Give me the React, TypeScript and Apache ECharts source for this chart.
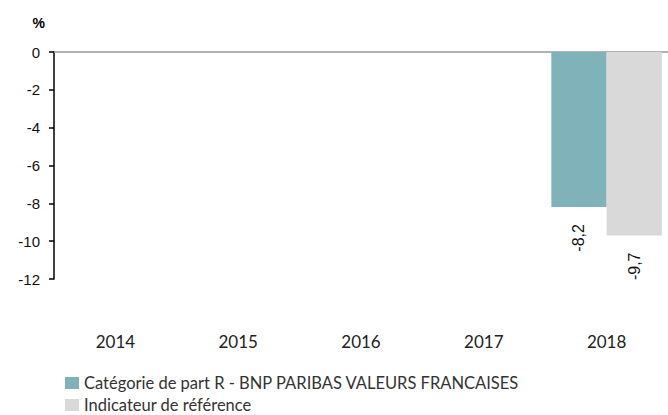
import React, { useEffect, useRef } from "react";
import * as echarts from "echarts";

const categories = ["2014", "2015", "2016", "2017", "2018"];
const fundValues: (number | null)[] = [null, null, null, null, -8.2];
const benchValues: (number | null)[] = [null, null, null, null, -9.7];
const seriesNames = ["Catégorie de part R - BNP PARIBAS VALEURS FRANCAISES", "Indicateur de référence"];

export default function App() {
  const ref = useRef<HTMLDivElement>(null);
  useEffect(() => {
    const chart = echarts.init(ref.current!, null, { renderer: "svg" });
    const labelFont = "Lato, 'Liberation Sans', Arial, sans-serif";
    const numFont = "'Liberation Sans', Arial, sans-serif";
    const mkLabel = () => ({
      show: true,
      position: "bottom",
      distance: 17,
      rotate: 90,
      align: "right",
      verticalAlign: "middle",
      color: "#111",
      fontSize: 16,
      fontFamily: numFont,
      formatter: (p: any) => String(p.value).replace(".", ","),
    });
    const legendBase = {
      orient: "vertical",
      left: 60,
      itemWidth: 14,
      itemHeight: 12,
      icon: "rect",
      padding: [0, 5, 0, 5],
      textStyle: { fontSize: 16.5, lineHeight: 18, color: "#333", fontFamily: labelFont },
    };
    chart.setOption({
      animation: false,
      grid: { left: 54, width: 617, top: 52, bottom: 136 },
      legend: [
        { ...legendBase, top: 374, data: [seriesNames[0]] },
        { ...legendBase, top: 396, data: [seriesNames[1]] },
      ],
      xAxis: [
        {
          type: "category",
          data: categories,
          position: "bottom",
          axisLine: { show: false },
          axisTick: { show: false },
          axisLabel: { margin: 54, fontSize: 17, color: "#222", fontFamily: labelFont },
        },
        {
          type: "category",
          data: categories,
          position: "top",
          axisLine: { show: true, lineStyle: { color: "#999", width: 1.5 } },
          axisTick: { show: false },
          axisLabel: { show: false },
        },
      ],
      yAxis: {
        type: "value",
        min: -12,
        max: 0,
        interval: 2,
        name: "%",
        nameLocation: "end",
        nameGap: 22,
        nameTextStyle: { fontSize: 14, fontWeight: "bold", color: "#000", align: "right", padding: [0, 9, 0, 0], fontFamily: numFont },
        axisLine: { show: true, lineStyle: { color: "#000", width: 1.5 } },
        axisTick: { show: true, length: 5, lineStyle: { color: "#000", width: 1.5 } },
        axisLabel: { fontSize: 15, color: "#111", margin: 14, fontFamily: numFont },
        splitLine: { show: false },
      },
      series: [
        {
          name: seriesNames[0],
          type: "bar",
          data: fundValues,
          itemStyle: { color: "#7fb3b9" },
          barGap: "0%",
          barCategoryGap: "10%",
          label: mkLabel(),
        },
        {
          name: seriesNames[1],
          type: "bar",
          data: benchValues,
          itemStyle: { color: "#d9d9d9" },
          barGap: "0%",
          barCategoryGap: "10%",
          label: mkLabel(),
        },
      ],
    });
    return () => chart.dispose();
  }, []);
  return <div ref={ref} style={{ width: 668, height: 415, position: "absolute", left: 0, top: 0 }} />;
}
